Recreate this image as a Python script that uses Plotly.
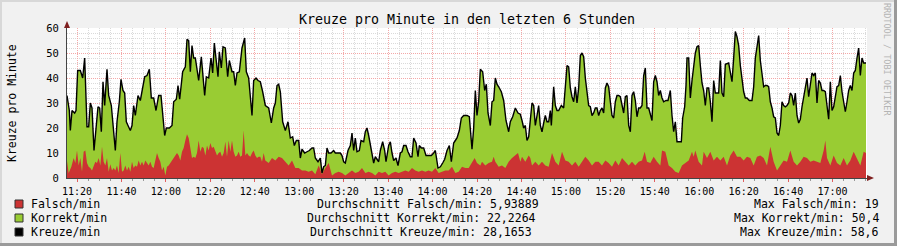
import datetime as dt
import plotly.graph_objects as go

# ---- data (minutes after 11:15:30, values per minute) ----
kreuze_min = [0, 1.05, 1.5, 2.25, 3.45, 4.05, 4.8, 6.0, 7.05, 7.95, 9.0, 9.75, 10.5, 11.25, 12.15, 13.05, 13.95, 14.7, 15.45, 16.2, 16.95, 18.0, 18.75, 19.95, 21.0, 21.75, 22.5, 23.55, 24.3, 25.2, 25.95, 26.7, 27.45, 28.5, 29.25, 30.0, 30.75, 31.95, 33.0, 34.05, 34.95, 36.0, 37.05, 37.95, 39.0, 40.05, 41.25, 42.3, 43.05, 43.95, 44.7, 46.05, 47.25, 48.0, 49.2, 49.95, 50.7, 51.45, 52.05, 53.25, 54.0, 54.75, 55.5, 56.25, 57.0, 57.75, 58.5, 59.25, 60.45, 61.95, 62.7, 63.75, 64.8, 65.55, 66.3, 67.05, 67.95, 68.55, 69.45, 70.2, 71.25, 72.3, 73.05, 74.25, 75.0, 75.75, 76.5, 77.55, 78.75, 79.95, 80.7, 81.75, 82.8, 83.25, 84.0, 85.05, 85.95, 87.0, 88.05, 89.25,
              90.75, 91.95, 93.0, 93.75, 94.5, 95.25, 96.0, 97.05, 98.25, 99.45, 100.5, 101.55, 102.3, 103.2, 104.25, 105.0, 105.75, 106.95, 108.0, 109.05, 110.25, 111.0, 111.75, 112.95, 114.0, 114.75, 115.5, 116.25, 117.0, 117.75, 118.8, 120.0, 120.75, 121.95, 123.0, 123.75, 124.5, 125.25, 126.45, 127.5, 128.25, 129.0, 129.75, 130.5, 131.55, 132.3, 133.5, 134.25, 135.0, 135.75, 136.95, 138.0, 138.75, 139.5, 140.25, 141.0, 142.05, 142.95, 143.55, 144.75, 145.5, 146.25, 147.0, 148.05, 148.95, 150.0, 150.75, 151.5, 152.55, 153.45, 154.5, 155.25, 156.0, 157.05, 157.95, 158.55, 159.45, 160.5, 161.55, 162.75, 163.95, 165.0, 165.75, 166.95, 168.0, 169.05, 169.95, 171.0, 172.05, 172.95, 174.0, 174.75, 175.5, 176.55, 177.45, 178.5,
              179.25, 180.0, 181.05, 181.5, 182.25, 183.0, 183.75, 184.5, 185.25, 186.0, 187.05, 187.95, 188.7, 189.45, 190.5, 191.25, 192.0, 192.75, 193.5, 194.25, 195.45, 196.5, 197.55, 198.75, 199.5, 200.55, 201.75, 202.95, 204.0, 204.75, 205.5, 206.25, 207.0, 207.75, 208.5, 209.25, 210.0, 210.75, 211.5, 212.25, 213.0, 213.75, 214.5, 215.25, 216.0, 216.75, 217.5, 217.95, 219.0, 219.75, 220.5, 221.25, 222.45, 223.5, 224.25, 225.0, 225.75, 226.5, 227.25, 228.0, 228.75, 229.5, 230.25, 231.0, 231.75, 232.5, 233.25, 234.0, 234.75, 235.5, 236.25, 237.0, 237.75, 238.5, 239.25, 240.0, 240.75, 241.5, 242.25, 243.0, 243.75, 244.5, 245.25, 246.0, 246.75, 247.5, 248.25, 249.0, 249.75, 250.5, 251.25, 252.0, 252.75, 253.5, 254.25, 255.0, 255.75, 256.5, 257.25, 258.0, 258.75, 259.5, 260.25, 261.0, 261.75, 262.5, 263.25, 264.0, 264.75, 265.5, 266.25, 267.0, 267.75,
              268.5, 269.55, 270.45, 271.5, 272.25, 273.0, 273.75, 274.5, 275.25, 276.45, 277.05, 277.95, 278.55, 279.0, 279.75, 280.5, 281.25, 282.0, 282.75, 283.5, 284.25, 285.0, 285.75, 286.5, 287.25, 288.0, 288.75, 289.5, 290.25, 291.0, 291.75, 292.5, 293.25, 294.0, 294.75, 295.5, 296.25, 297.75, 298.5, 299.25, 300.0, 300.75, 301.5, 302.25, 303.0, 303.75, 304.5, 305.25, 306.0, 307.05, 308.25, 309.0, 309.75, 310.5, 311.25, 312.0, 312.75, 313.5, 314.25, 315.0, 315.75, 316.5, 317.25, 318.0, 318.75, 319.5, 320.25, 321.0, 321.75, 322.5, 323.25, 324.0, 324.75, 325.5, 326.25, 327.0, 327.75, 328.5, 329.25, 330.0, 330.75, 331.5, 332.25, 333.0, 333.75, 334.5, 335.25, 336.0, 336.75, 337.5, 338.25, 339.0, 339.75, 340.5, 341.25, 342.0, 342.75, 343.5, 344.25, 345.0, 345.75, 346.5, 347.25, 348.0, 348.75, 349.5, 350.25, 351.0, 351.75, 352.5, 353.25, 354.0, 354.75, 355.5, 356.25, 357.0, 357.75, 358.5, 359.55]
kreuze = [33, 27, 19, 27, 26, 27, 43, 43, 40, 48, 20.5, 20.5, 30, 28, 11, 21, 28.5, 28, 18.5, 38.5, 29, 43.5, 33, 29, 18, 11, 22.5, 30.5, 39.5, 35, 34, 22.5, 21, 19, 21, 29, 25, 33, 31, 36, 40.5, 41, 43.5, 32, 32, 27, 33, 33, 25, 17, 20, 20, 21, 30.5, 31.5, 37, 31.5, 36.5, 42.5, 44.5, 55.5, 55, 42.5, 53, 48, 48, 44, 39, 48.5, 33, 40.5, 40, 48, 42, 54, 48, 40.5, 50.5, 44, 52.5, 52, 40.5, 47, 42.5, 42.5, 37, 42, 42.5, 52, 56, 42.5, 40, 30.5, 25, 39, 40, 39, 38.5, 34.5, 29,
          28, 22, 28, 30, 37, 37.5, 34.5, 22.5, 19, 22.5, 16, 16.5, 13, 15, 15, 8, 11.5, 10, 10.5, 11, 12, 12, 8, 6.5, 8, 2, 4.5, 5, 12, 10, 10, 11, 10, 10, 10, 9, 6.5, 6, 11, 13, 18, 11, 16, 10.5, 11, 15, 14.5, 18.5, 20, 17, 11, 6, 8.5, 7.5, 6.5, 11, 14.5, 11, 6.5, 13, 14.5, 10, 7, 8, 5, 10, 10.5, 13, 13, 10.5, 8.5, 8.5, 16, 14, 8.5, 13, 12, 12, 9, 9, 9, 10, 11, 4, 4.5, 6, 7.5, 11, 13, 6.5, 14, 15, 16, 19, 24, 25,
          25, 25, 24.5, 20, 11.5, 20, 35, 25, 30.5, 43.5, 42.5, 35, 37.5, 26, 21, 30.5, 31, 40, 37.5, 36.5, 34.5, 31, 23, 18.5, 22.5, 24.5, 28, 26, 25.5, 23, 20, 21, 15, 16.5, 25, 30, 29, 21, 25, 29, 21, 18.5, 22, 25, 22.5, 22.5, 27, 21, 36.5, 29, 27, 27, 29, 28, 36.5, 45, 44.5, 36, 32.5, 30.5, 36.5, 30, 36, 49, 50, 48.5, 40, 35, 29, 28.5, 25, 26, 28, 28, 25, 27, 28, 26, 36, 38, 36.5, 30.5, 25, 24, 30.5, 33, 33, 32.5, 29, 26, 32.5, 33, 21, 18.5, 33, 34.5, 31, 24.5, 28, 28, 29, 41, 44, 28, 28, 25, 23, 38.5, 41, 38.5, 33, 35, 32,
          30.5, 31, 31, 35, 25, 18.5, 22.5, 14.5, 14.5, 14.5, 24, 28.5, 37, 48, 48, 32, 39, 44, 50, 52.5, 53, 45, 38, 35, 29, 36, 36, 30.5, 22.5, 39, 34, 34, 34, 47, 34, 32.5, 45.5, 46, 42.5, 38.5, 48, 58.6, 56.5, 53, 45, 40, 34.5, 32, 32, 31, 31, 36.5, 48, 52.5, 57, 47, 42.5, 36.5, 37, 37, 36.5, 30.5, 28, 24.5, 24, 18, 17, 21, 30.5, 29, 28.5, 29, 30, 34, 33, 29, 34, 25, 22, 23.5, 28.5, 32.5, 37, 40, 32.5, 37, 42, 41, 42, 30, 39, 38, 35, 35, 34.5, 29, 23.5, 38.5, 27, 28.5, 33, 36.5, 37, 41, 34.5, 30, 26.5, 30.5, 35, 37, 35, 42, 43, 48, 52, 41, 48, 46, 46]

falsch_min = [0, 0.75, 1.95, 3.0, 3.75, 4.5, 5.25, 6.0, 6.75, 7.5, 8.25, 9.0, 9.75, 10.5, 11.25, 12.0, 12.75, 13.5, 14.25, 15.0, 15.75, 16.5, 17.25, 18.0, 18.75, 19.5, 20.25, 21.0, 21.75, 22.5, 23.25, 24.0, 24.75, 25.5, 26.25, 27.0, 27.75, 28.5, 29.25, 30.0, 30.75, 31.5, 32.25, 33.0, 33.75, 34.5, 35.25, 36.0, 36.75, 37.5, 38.25, 39.0, 39.75, 40.5, 41.25, 42.0, 42.75, 43.5, 44.25, 45.0, 45.75, 46.5, 47.25, 48.0, 48.75, 49.5, 50.25, 51.0, 51.75, 52.5, 53.25, 54.0, 54.75, 55.5, 56.25, 57.0, 57.75, 58.5, 59.25, 60.0, 60.75, 61.5, 62.25, 63.0, 63.75, 64.5, 65.25, 66.0, 66.75, 67.5, 68.25, 69.0, 69.75, 70.5, 71.25, 72.0, 72.75, 73.5, 74.25, 75.0, 75.75, 76.5, 77.25, 78.0, 78.75, 79.5, 80.25, 81.0, 81.75, 82.5, 83.25, 84.0, 84.75, 85.5, 86.25, 87.0, 87.75, 88.5, 89.25,
              90.75, 92.25, 93.75, 95.25, 96.75, 98.25, 99.75, 101.25, 102.75, 104.25, 105.75, 107.25, 108.75, 110.25, 111.75, 113.25, 114.75, 116.25, 117.75, 119.25, 120.75, 122.25, 123.75, 125.25, 126.75, 128.25, 129.75, 131.25, 132.75, 134.25, 135.75, 137.25, 138.75, 140.25, 141.75, 143.25, 144.75, 146.25, 147.75, 149.25, 150.75, 152.25, 153.75, 155.25, 156.75, 158.25, 159.75, 161.25, 162.75, 164.25, 165.75, 167.25, 168.75, 170.25, 171.75, 173.25, 174.75, 176.25, 177.75,
              179.25, 180.75, 182.25, 183.45, 184.5, 186.0, 186.75, 188.25, 189.75, 191.25, 192.0, 192.75, 194.25, 195.75, 197.25, 198.75, 200.25, 201.75, 202.95, 204.0, 204.75, 206.25, 207.75, 208.5, 209.25, 210.75, 212.25, 213.75, 215.25, 216.75, 218.25, 219.75, 221.25, 222.75, 224.25, 225.75, 227.25, 228.75, 230.25, 231.75, 233.25, 234.75, 236.25, 237.75, 239.25, 240.75, 242.25, 243.75, 245.25, 246.75, 248.25, 249.75, 251.25, 252.75, 254.25, 255.75, 257.25, 258.75, 259.95, 261.0, 262.5, 264.0, 265.5, 267.0,
              267.75, 269.25, 270.75, 272.25, 273.75, 275.25, 276.75, 278.25, 279.75, 281.25, 282.0, 282.75, 284.25, 285.75, 286.5, 288.0, 289.5, 291.0, 292.5, 294.0, 295.5, 297.0, 298.5, 300.0, 301.5, 303.0, 304.5, 306.0, 307.5, 309.0, 310.5, 312.0, 313.5, 315.0, 316.5, 318.0, 319.5, 321.0, 322.5, 324.0, 325.5, 327.0, 328.5, 330.0, 331.5, 333.0, 334.5, 336.0, 337.5, 339.0, 340.5, 341.25, 342.0, 343.5, 345.0, 346.5, 348.0, 349.5, 351.0, 352.5, 354.0, 355.5, 357.0, 358.5, 359.55]
falsch = [6.8, 2, 4.5, 8, 6, 11, 5, 8, 2.5, 10.5, 11, 6, 4.5, 4, 3, 5, 6.5, 6, 8, 5, 12.5, 6.5, 5, 8, 2.5, 5.5, 3, 4, 3, 5, 2, 10, 2.5, 3, 5, 3, 4.5, 2.5, 6.5, 4, 5, 4.5, 7, 5, 6.5, 5, 7, 6, 5, 6.5, 4.5, 4, 6.5, 10, 8, 6.5, 3, 4.5, 1, 4.5, 5, 6, 6.5, 8, 8.5, 10, 9, 7, 10.5, 12, 15, 17.5, 16, 12, 8, 8.5, 8, 10, 15, 10.5, 12.5, 12, 9, 13, 11, 14, 12, 12.5, 11, 9, 10, 10.5, 8.5, 10, 14.5, 8.5, 15, 10.5, 15, 10.5, 8.5, 9, 10.5, 8.5, 9, 19, 9, 10, 9, 8.5, 10, 11, 9, 8, 8.5, 8.5, 6.5, 10, 7,
          6, 8, 7, 8.5, 8, 6.5, 5, 7, 4, 4, 3, 3, 2.5, 3, 1.5, 5, 1.5, 4, 6, 1, 2, 2.5, 2, 1, 2, 3, 2, 2.5, 4, 2, 2.5, 2, 1, 2.5, 2, 2.5, 1, 2, 2.5, 2, 2.5, 3, 2.5, 4, 3, 2.5, 3, 2.5, 3, 2.5, 4, 2, 2.5, 3, 3, 4.5, 2, 2.5, 4.5,
          4, 4, 6, 8, 6, 5, 6.5, 5, 6, 6.5, 8.5, 6.5, 4.5, 5, 4, 6.5, 8, 9, 10, 6.5, 8.5, 6.5, 9, 8, 5, 6.5, 5, 6.5, 5, 4.5, 10, 6.5, 5, 10.5, 7, 6.5, 5, 6.5, 4.5, 6.5, 8.5, 7, 5, 6.5, 6.5, 5, 7, 6, 4.5, 7, 5, 8, 6.5, 5, 6.5, 5, 6.5, 7, 10.5, 6.5, 6, 8.5, 6.5, 5,
          11, 10.5, 5, 4, 2.5, 2, 5, 6, 7, 10.5, 8.5, 11, 6.5, 5, 10.5, 8, 10.5, 7, 8.5, 7, 8.5, 5, 9, 11, 8.5, 8.5, 7, 8.5, 8, 5, 8.5, 9, 8, 5, 12.5, 6.5, 3, 5, 7, 6.5, 11, 6.5, 5, 6.5, 8.5, 8, 6.5, 7, 6.5, 6, 11, 15, 8, 5, 9, 6, 5, 8, 5, 7, 10.5, 8, 5, 10.5, 10]

x_ticks_start = "2024-01-01 11:20:00"
legend_rows = [
    ("Falsch/min", "#CC3333", "Durchschnitt Falsch/min: 5,93889", "Max Falsch/min: 19"),
    ("Korrekt/min", "#99CC33", "Durchschnitt Korrekt/min: 22,2264", "Max Korrekt/min: 50,4"),
    ("Kreuze/min", "#000000", "Durchschnitt Kreuze/min: 28,1653", "Max Kreuze/min: 58,6"),
]
title = "Kreuze pro Minute in den letzten 6 Stunden"
y_title = "Kreuze pro Minute"

# ---- build ----
base = dt.datetime(2024, 1, 1, 11, 15, 30)
kx = [base + dt.timedelta(minutes=m) for m in kreuze_min]
fx = [base + dt.timedelta(minutes=m) for m in falsch_min]

W, H = 897, 246
L, R, T, B = 67, 867, 28, 178
PW, PH = R - L, B - T


def px(xp):
    return (xp - L) / PW


def py(yp):
    return (B - yp) / PH


FONT = "DejaVu Sans Mono"
fig = go.Figure()
fig.add_trace(go.Scatter(x=kx, y=kreuze, mode="lines", line=dict(width=0, color="#99CC33"),
                         fill="tozeroy", fillcolor="#99CC33", name="Korrekt/min"))
fig.add_trace(go.Scatter(x=fx, y=falsch, mode="lines", line=dict(width=0, color="#CC3333"),
                         fill="tozeroy", fillcolor="#CC3333", name="Falsch/min"))
fig.add_trace(go.Scatter(x=kx, y=kreuze, mode="lines", line=dict(width=1.4, color="#000000"),
                         name="Kreuze/min"))

fig.update_layout(
    width=W, height=H, autosize=False,
    margin=dict(l=L, r=W - R, t=T, b=H - B, pad=0),
    paper_bgcolor="#F1F1F1", plot_bgcolor="#FFFFFF",
    showlegend=False,
    font=dict(family=FONT, size=10, color="#000000"),
    title=dict(text=title, x=0.5, xref="paper", xanchor="center", y=1 - 19 / H, yanchor="middle",
               font=dict(family=FONT, size=13.3, color="#000000")),
)
fig.update_xaxes(
    type="date", range=[base, base + dt.timedelta(minutes=360)],
    tick0=x_ticks_start, dtick=20 * 60 * 1000, tickformat="%H:%M",
    showgrid=True, gridcolor="#F4A8A8", griddash="1px,1px", gridwidth=1,
    minor=dict(dtick=5 * 60 * 1000, tick0=x_ticks_start, showgrid=True, gridcolor="#DADADA",
               griddash="1px,1px", gridwidth=1, ticks="outside", ticklen=2, tickcolor="#999999"),
    ticks="outside", ticklen=3, tickcolor="#E06060",
    showline=True, linecolor="#444444", linewidth=1, zeroline=False,
    tickfont=dict(family=FONT, size=10), ticklabelstandoff=1,
)
fig.update_yaxes(
    range=[0, 60], dtick=10, tick0=0,
    showgrid=True, gridcolor="#F4A8A8", griddash="1px,1px", gridwidth=1,
    minor=dict(dtick=2, showgrid=True, gridcolor="#DADADA", griddash="1px,1px", gridwidth=1),
    ticks="", showline=True, linecolor="#444444", linewidth=1, zeroline=False,
    tickfont=dict(family=FONT, size=10.5), ticklabelstandoff=5,
)

shapes = []
# arrows
shapes.append(dict(type="path", xref="paper", yref="paper", layer="above",
                   path=f"M {px(64)} {py(28)} L {px(70)} {py(28)} L {px(67)} {py(21)} Z",
                   fillcolor="#7F1F1F", line=dict(width=0)))
shapes.append(dict(type="path", xref="paper", yref="paper", layer="above",
                   path=f"M {px(867)} {py(175)} L {px(867)} {py(181)} L {px(874)} {py(178)} Z",
                   fillcolor="#7F1F1F", line=dict(width=0)))
# frame shading
shapes.append(dict(type="rect", xref="paper", yref="paper", x0=px(0), x1=px(W), y0=py(0), y1=py(2),
                   fillcolor="#D8D8D8", line=dict(width=0), layer="below"))
shapes.append(dict(type="rect", xref="paper", yref="paper", x0=px(0), x1=px(2), y0=py(0), y1=py(H),
                   fillcolor="#D8D8D8", line=dict(width=0), layer="below"))
shapes.append(dict(type="rect", xref="paper", yref="paper", x0=px(0), x1=px(W), y0=py(H - 3), y1=py(H),
                   fillcolor="#9A9A9A", line=dict(width=0), layer="below"))
shapes.append(dict(type="rect", xref="paper", yref="paper", x0=px(W - 3), x1=px(W), y0=py(0), y1=py(H),
                   fillcolor="#9A9A9A", line=dict(width=0), layer="below"))

annotations = []
row_y = [204, 218, 232]
avg_x = [315, 305, 308]
for (name, col, avg, mx), yc, ax in zip(legend_rows, row_y, avg_x):
    shapes.append(dict(type="rect", xref="paper", yref="paper", x0=px(15), x1=px(23), y0=py(yc - 4),
                       y1=py(yc + 4), fillcolor=col, line=dict(width=1, color="#333333")))
    annotations.append(dict(text=name, xref="paper", yref="paper", x=px(29), y=py(yc), xanchor="left",
                            yanchor="middle", showarrow=False, font=dict(family=FONT, size=11.5)))
    annotations.append(dict(text=avg, xref="paper", yref="paper", x=px(ax), y=py(yc), xanchor="left",
                            yanchor="middle", showarrow=False, font=dict(family=FONT, size=11.5)))
    annotations.append(dict(text=mx, xref="paper", yref="paper", x=px(881), y=py(yc), xanchor="right",
                            yanchor="middle", showarrow=False, font=dict(family=FONT, size=11.5)))

annotations.append(dict(text=y_title, xref="paper", yref="paper", x=px(12), y=py(103), xanchor="center",
                        yanchor="middle", textangle=-90, showarrow=False, font=dict(family=FONT, size=11.5)))
annotations.append(dict(text="RRDTOOL / TOBI OETIKER", xref="paper", yref="paper", x=px(887), y=py(60),
                        xanchor="center", yanchor="middle", textangle=90, showarrow=False,
                        font=dict(family=FONT, size=8.5, color="#B4B4B4")))

fig.update_layout(shapes=shapes, annotations=annotations)
fig.write_html("out.html")
